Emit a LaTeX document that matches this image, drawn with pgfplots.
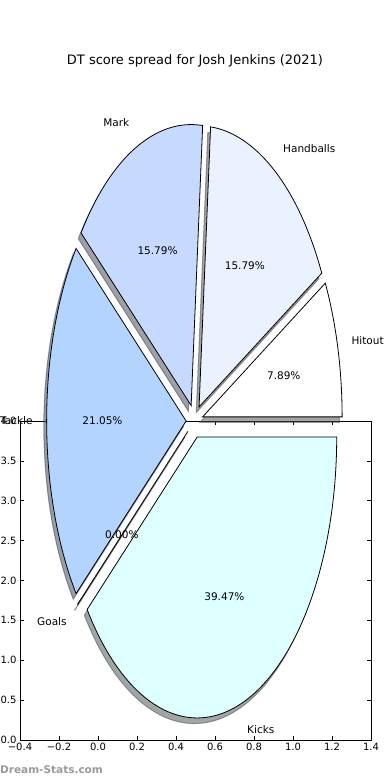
\documentclass[border=0pt]{standalone}
\usepackage{pgfplots}
\pgfplotsset{compat=1.18}
\usepackage{pgfplotstable}
\usepackage{fontspec}
\setmainfont{DejaVu Sans}

\definecolor{cHit}{RGB}{255,255,255}
\definecolor{cHand}{RGB}{235,242,255}
\definecolor{cMark}{RGB}{198,217,255}
\definecolor{cTack}{RGB}{179,212,255}
\definecolor{cGoal}{RGB}{200,220,255}
\definecolor{cKick}{RGB}{221,255,255}

% DT score components (points) for Josh Jenkins (2021)
\pgfplotstableread{
label score col
Hitout 3 cHit
Handballs 6 cHand
Mark 6 cMark
Tackle 8 cTack
Goals 0 cGoal
Kicks 15 cKick
}\dtdata

% pie geometry in axis units
\def\pcx{0.4949}\def\pcy{4.0}\def\prx{0.7154}\def\pry{3.5235}\def\pex{0.06}\def\ptotal{38}
\newcommand\labfont{\fontsize{10.5}{12.6}\selectfont}

\begin{document}
\begin{tikzpicture}
\path[use as bounding box] (0pt,0pt) rectangle (390pt,780pt);
\xdef\wAcc{0}%
\pgfplotsforeachungrouped \idx in {0,...,5}{%
  \pgfplotstablegetelem{\idx}{score}\of\dtdata
  \let\wVal\pgfplotsretval
  \pgfplotstablegetelem{\idx}{label}\of\dtdata
  \expandafter\xdef\csname pL\idx\endcsname{\pgfplotsretval}%
  \pgfplotstablegetelem{\idx}{col}\of\dtdata
  \colorlet{pie\idx}{\pgfplotsretval}%
  \colorlet{pieshadow\idx}{\pgfplotsretval!30!black}%
  \pgfmathsetmacro\wSa{\wAcc}%
  \pgfmathsetmacro\wEa{\wAcc+360*\wVal/\ptotal}%
  \pgfmathsetmacro\wEb{max(\wEa,\wSa+0.05)}%
  \pgfmathsetmacro\wMa{(\wSa+\wEa)/2}%
  \pgfmathsetmacro\wOx{\pcx+\pex*\prx*cos(\wMa)}%
  \pgfmathsetmacro\wOy{\pcy+\pex*\pry*sin(\wMa)}%
  \pgfmathsetmacro\wLx{\wOx+1.1*\prx*cos(\wMa)}%
  \pgfmathsetmacro\wLy{\wOy+1.1*\pry*sin(\wMa)}%
  \pgfmathsetmacro\wTx{\wOx+0.6*\prx*cos(\wMa)}%
  \pgfmathsetmacro\wTy{\wOy+0.6*\pry*sin(\wMa)}%
  \pgfmathsetmacro\wPc{100*\wVal/\ptotal}%
  \pgfmathtruncatemacro\wDir{cos(\wMa)>0}%
  \ifnum\wDir=1 \expandafter\xdef\csname pA\idx\endcsname{west}%
  \else \expandafter\xdef\csname pA\idx\endcsname{east}\fi
  \expandafter\xdef\csname pS\idx\endcsname{\wSa}%
  \expandafter\xdef\csname pB\idx\endcsname{\wEb}%
  \expandafter\xdef\csname pX\idx\endcsname{\wOx}%
  \expandafter\xdef\csname pY\idx\endcsname{\wOy}%
  \expandafter\xdef\csname pLX\idx\endcsname{\wLx}%
  \expandafter\xdef\csname pLY\idx\endcsname{\wLy}%
  \expandafter\xdef\csname pTX\idx\endcsname{\wTx}%
  \expandafter\xdef\csname pTY\idx\endcsname{\wTy}%
  \expandafter\xdef\csname pP\idx\endcsname{\wPc}%
  \xdef\wAcc{\wEa}%
}
\begin{axis}[
  at={(20pt,40pt)}, anchor=south west,
  scale only axis, width=351pt, height=319pt,
  xmin=-0.4, xmax=1.4, ymin=0, ymax=4,
  clip=false,
  axis line style={line width=0.8pt},
  tick align=inside, xtick pos=both, ytick pos=both,
  major tick length=4pt,
  tick style={black, line width=0.6pt},
  xtick={-0.4,-0.2,0,0.2,0.4,0.6,0.8,1.0,1.2,1.4},
  xticklabels={−0.4,−0.2,0.0,0.2,0.4,0.6,0.8,1.0,1.2,1.4},
  ytick={0,0.5,1,1.5,2,2.5,3,3.5,4},
  yticklabels={0.0,0.5,1.0,1.5,2.0,2.5,3.0,3.5,4.0},
  every tick label/.append style={font=\fontsize{10}{12}\selectfont},
]
% shadows
\pgfplotsinvokeforeach{0,...,5}{
  \addplot[draw=pieshadow#1, fill=pieshadow#1, opacity=0.5, line width=1pt,
    domain=\csname pS#1\endcsname:\csname pB#1\endcsname, samples=90, variable=\t]
    ({\csname pX#1\endcsname-0.02*\prx+\prx*cos(\t)}, {\csname pY#1\endcsname-0.02*\pry+\pry*sin(\t)})
    -- (axis cs:{\csname pX#1\endcsname-0.02*\prx},{\csname pY#1\endcsname-0.02*\pry}) -- cycle;
}
% wedges
\pgfplotsinvokeforeach{0,...,5}{
  \addplot[draw=black, fill=pie#1, line width=0.8pt, line join=miter,
    domain=\csname pS#1\endcsname:\csname pB#1\endcsname, samples=90, variable=\t]
    ({\csname pX#1\endcsname+\prx*cos(\t)}, {\csname pY#1\endcsname+\pry*sin(\t)})
    -- (axis cs:\csname pX#1\endcsname,\csname pY#1\endcsname) -- cycle;
}
% labels
\pgfplotsinvokeforeach{0,...,5}{
  \node[anchor=\csname pA#1\endcsname, font=\labfont, inner sep=0pt]
    at (axis cs:\csname pLX#1\endcsname,\csname pLY#1\endcsname) {\csname pL#1\endcsname};
  \node[font=\labfont, inner sep=0pt]
    at (axis cs:\csname pTX#1\endcsname,\csname pTY#1\endcsname)
    {\pgfmathprintnumber[fixed,fixed zerofill,precision=2,assume math mode=true]{\csname pP#1\endcsname}\%};
}
\end{axis}
\node[font=\fontsize{13}{15.6}\selectfont] at (195pt,719pt) {DT score spread for Josh Jenkins (2021)};
\node[anchor=west, font=\bfseries\fontsize{10.5}{12.6}\selectfont, text=black!40, inner sep=0pt] at (0pt,10pt) {Dream-Stats.com};
\end{tikzpicture}
\end{document}
